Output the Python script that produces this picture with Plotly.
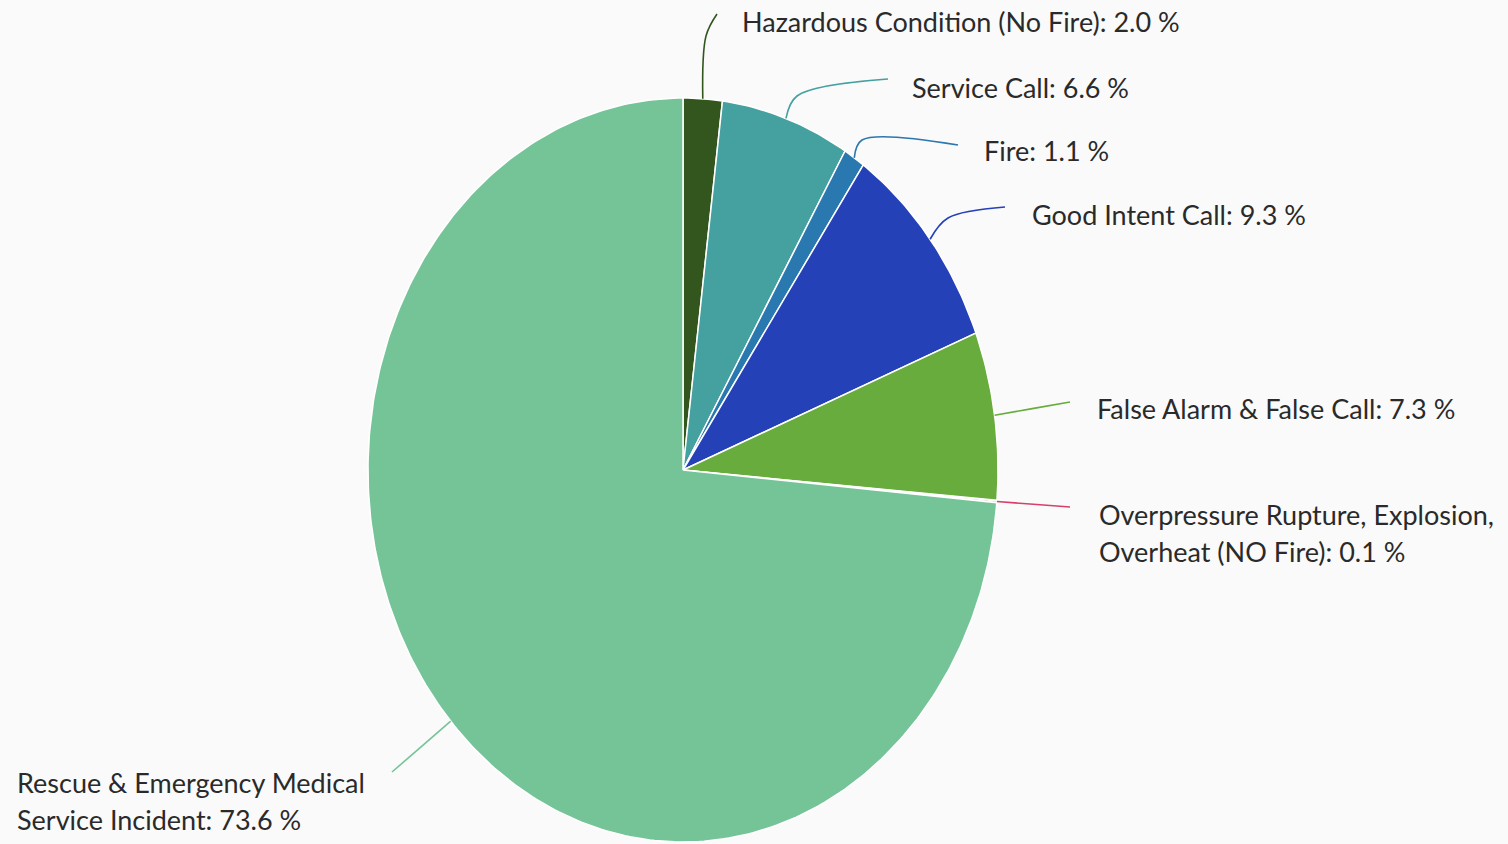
import math
import plotly.graph_objects as go

# ---- data ----
categories = [
    "Hazardous Condition (No Fire)",
    "Service Call",
    "Fire",
    "Good Intent Call",
    "False Alarm & False Call",
    "Overpressure Rupture, Explosion, Overheat (NO Fire)",
    "Rescue & Emergency Medical Service Incident",
]
values = [2.0, 6.6, 1.1, 9.3, 7.3, 0.1, 73.6]
colors = ["#33561f", "#45a0a0", "#2a78b0", "#2441b8", "#67ac3c", "#d6406a", "#74c498"]
line_breaks = [None, None, None, None, None, "Explosion, ", "Medical "]

# ---- layout geometry (pixels) ----
W, H = 1508, 844
CX, CY, RX, RY = 683, 470, 315, 372
# label anchor (left x, first-line center y), connector bend and end points
label_pos = [(740, 22), (910, 87), (982, 150), (1030, 214), (1095, 408), (1097, 514), (15, 782)]
bend_pos = [(706, 36), (797, 96), (862, 140), (948, 218), None, None, None]
end_pos = [(717, 14), (888, 79), (958, 145), (1005, 207), (1070, 402), (1070, 507), (392, 772)]
LINE_GAP = 37


def to_data(px, py):
    return (px - CX) / RX, (CY - py) / RY


fig = go.Figure()
total = sum(values)
cum = 0.0
mids = []
for name, v, c in zip(categories, values, colors):
    a0 = cum / total * 2 * math.pi
    a1 = (cum + v) / total * 2 * math.pi
    cum += v
    n = max(4, int(400 * v / total))
    xs, ys = [0.0], [0.0]
    for i in range(n + 1):
        a = a0 + (a1 - a0) * i / n
        xs.append(math.sin(a))
        ys.append(math.cos(a))
    xs.append(0.0)
    ys.append(0.0)
    fig.add_trace(go.Scatter(x=xs, y=ys, fill="toself", fillcolor=c, mode="lines",
                             line=dict(color="white", width=1.5), name=name,
                             hoverinfo="text", text=f"{name}: {v:.1f} %", showlegend=False))
    mids.append((a0 + a1) / 2)

annotations = []
for k, (name, v, c) in enumerate(zip(categories, values, colors)):
    am = mids[k]
    sx, sy = math.sin(am), math.cos(am)
    ex, ey = to_data(*end_pos[k])
    if bend_pos[k] is not None:
        bx, by = to_data(*bend_pos[k])
    else:
        bx, by = (sx + ex) / 2, (sy + ey) / 2
    fig.add_trace(go.Scatter(x=[sx, bx, ex], y=[sy, by, ey], mode="lines",
                             line=dict(color=c, width=1.6, shape="spline", smoothing=1.0),
                             hoverinfo="skip", showlegend=False))
    label = f"{name}: {v:.1f} %"
    if line_breaks[k]:
        label = label.replace(line_breaks[k], line_breaks[k].rstrip() + "\n")
    lx, ly = label_pos[k]
    for j, line in enumerate(label.split("\n")):
        annotations.append(dict(
            x=lx / W, y=1 - (ly + j * LINE_GAP) / H, xref="paper", yref="paper",
            text=line, showarrow=False, xanchor="left", yanchor="middle",
            font=dict(family="Lato", size=27, color="#2a2a2a")))

fig.update_layout(
    width=W, height=H,
    margin=dict(l=0, r=0, t=0, b=0),
    paper_bgcolor="#fafafa", plot_bgcolor="#fafafa",
    xaxis=dict(range=[-CX / RX, (W - CX) / RX], visible=False, fixedrange=True),
    yaxis=dict(range=[-(H - CY) / RY, CY / RY], visible=False, fixedrange=True),
    annotations=annotations,
    showlegend=False,
)
fig.write_html(
    "out.html",
    config={"displayModeBar": False},
    post_script="document.body.style.margin='0';document.body.style.background='#fafafa';document.body.style.overflow='hidden';",
)
